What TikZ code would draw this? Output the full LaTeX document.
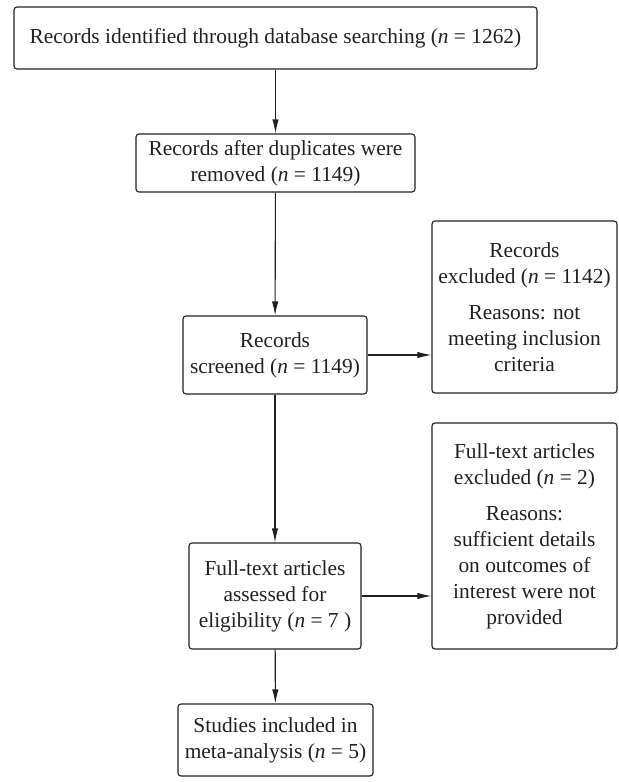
\documentclass[tikz,border=0pt]{standalone}
\usepackage{fontspec}
\setmainfont{Liberation Serif}
\usetikzlibrary{arrows.meta}
\definecolor{ink}{RGB}{35,31,32}
\begin{document}
\begin{tikzpicture}[x=0.5pt, y=-0.5pt,
    box/.style = {draw=ink, text=ink, line width=0.55pt, rounded corners=1.5pt,
                  align=center, inner sep=0pt,
                  font=\fontsize{10.7}{13}\selectfont},
    arr/.style = {draw=ink, line width=0.55pt, -{Latex[length=7pt, width=3.2pt]}}]

    \useasboundingbox (0,0) rectangle (619,782);

    % main column
    \node[box, minimum width=261.5pt, minimum height=31pt] (recid) at (275.5,38)
        {Records identified through database searching (\textit{n} = 1262)};
    \node[box, minimum width=139.5pt, minimum height=29pt] (recdup) at (275.5,163)
        {Records after duplicates were\\removed (\textit{n} = 1149)};
    \node[box, minimum width=92pt, minimum height=39pt] (recscr) at (275,355)
        {Records\\screened (\textit{n} = 1149)};
    \node[box, minimum width=86pt, minimum height=53pt] (fulltxt) at (275,596)
        {Full-text articles\\assessed for\\eligibility (\textit{n} = 7 )};
    \node[box, minimum width=97.5pt, minimum height=36pt] (incl) at (275.5,740)
        {Studies included in\\meta-analysis (\textit{n} = 5)};

    % excluded boxes
    \node[box, minimum width=92.5pt, minimum height=86pt] (recexc) at (524.5,307)
        {Records\\excluded (\textit{n} = 1142)\\[5pt]Reasons: not\\meeting inclusion\\criteria};
    \node[box, minimum width=92.5pt, minimum height=113pt] (fullexc) at (524.5,536)
        {Full-text articles\\excluded (\textit{n} = 2)\\[5pt]Reasons:\\sufficient details\\on outcomes of\\interest were not\\provided};

    % connectors
    \draw[arr] (recid) -- (recdup);
    \draw[arr] (recdup) -- (recscr);
    \draw[arr] (recscr) -- (fulltxt);
    \draw[arr] (fulltxt) -- (incl);
    \draw[arr] (recscr.east) -- (recscr.east -| recexc.west);
    \draw[arr] (fulltxt.east) -- (fulltxt.east -| fullexc.west);

\end{tikzpicture}
\end{document}
